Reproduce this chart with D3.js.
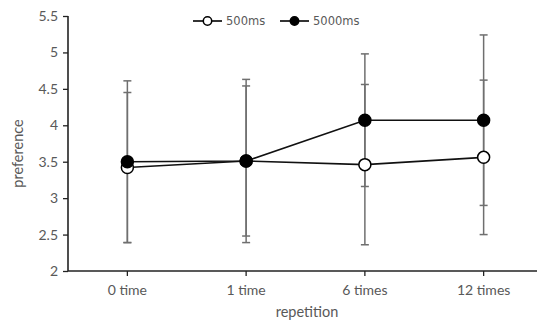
<!DOCTYPE html>
<html><head><meta charset="utf-8">
<script src="https://cdn.jsdelivr.net/npm/d3@7"></script>
<style>body{margin:0;background:#fff}svg{display:block}</style>
</head><body>
<svg id="c" width="537" height="321"></svg>
<script>
const categories = ["0 time", "1 time", "6 times", "12 times"];
const series = ["500ms", "5000ms"];
const mean500 = [3.42, 3.51, 3.46, 3.56];
const sd500 = [1.03, 1.03, 1.10, 1.06];
const mean5000 = [3.50, 3.51, 4.07, 4.07];
const sd5000 = [1.11, 1.12, 0.91, 1.17];
const yTicks = [2, 2.5, 3, 3.5, 4, 4.5, 5, 5.5];

const svg = d3.select("#c");
const L = 68, R = 543, T = 16, B = 271;
const x = d3.scaleBand().domain(categories).range([L, R]);
const y = d3.scaleLinear().domain([2, 5.5]).range([B, T]);
const gray = "#595959";
const font = "Lato, 'Open Sans', sans-serif";

// axes
const ya = svg.append("g").attr("transform", `translate(${L},0)`)
  .call(d3.axisLeft(y).tickValues(yTicks).tickSize(5).tickPadding(5).tickFormat(d3.format("")));
const xa = svg.append("g").attr("transform", `translate(0,${B})`)
  .call(d3.axisBottom(x).tickSize(5).tickPadding(9));
[ya, xa].forEach(g => {
  g.select(".domain").attr("stroke", "#222").attr("stroke-width", 1.6);
  g.selectAll(".tick line").attr("stroke", "#222").attr("stroke-width", 1.3);
  g.selectAll("text").attr("fill", gray).attr("font-size", 14).attr("font-family", font);
});
ya.select(".domain").attr("d", `M0,${T}V${B}`);
xa.select(".domain").attr("d", `M${L},0H${R}`);

const cx = d => x(d) + x.bandwidth() / 2;
const data = [
  {name: series[0], mean: mean500, sd: sd500, fill: "#fff"},
  {name: series[1], mean: mean5000, sd: sd5000, fill: "#000"}
];

// error bars
data.forEach(s => {
  const g = svg.append("g").attr("stroke", "#6f6f6f").attr("stroke-width", 1.5);
  categories.forEach((c, i) => {
    const hi = y(s.mean[i] + s.sd[i]), lo = y(s.mean[i] - s.sd[i]), xc = cx(c);
    g.append("line").attr("x1", xc).attr("x2", xc).attr("y1", hi).attr("y2", lo);
    g.append("line").attr("x1", xc - 4).attr("x2", xc + 4).attr("y1", hi).attr("y2", hi);
    g.append("line").attr("x1", xc - 4).attr("x2", xc + 4).attr("y1", lo).attr("y2", lo);
  });
});

// lines and markers
const line = d3.line().x((d, i) => cx(categories[i])).y(d => y(d));
data.forEach(s => {
  svg.append("path").attr("d", line(s.mean)).attr("fill", "none")
    .attr("stroke", "#111").attr("stroke-width", 1.6);
});
data.forEach(s => {
  svg.append("g").selectAll("circle").data(s.mean).join("circle")
    .attr("cx", (d, i) => cx(categories[i])).attr("cy", d => y(d)).attr("r", 6)
    .attr("fill", s.fill).attr("stroke", "#000").attr("stroke-width", 1.5);
});

// legend
const legX = [193, 280];
data.forEach((s, i) => {
  const g = svg.append("g").attr("transform", `translate(${legX[i]},21)`);
  g.append("line").attr("x1", 0).attr("x2", 29).attr("y1", 0).attr("y2", 0)
    .attr("stroke", "#000").attr("stroke-width", 1.6);
  g.append("circle").attr("cx", 14.5).attr("cy", 0).attr("r", 4.2)
    .attr("fill", s.fill).attr("stroke", "#000").attr("stroke-width", 1.5);
  g.append("text").attr("x", 33).attr("y", 4).text(s.name)
    .attr("fill", gray).attr("font-size", 11.5).attr("font-family", "'DejaVu Sans', sans-serif");
});

// axis titles
svg.append("text").attr("x", 307).attr("y", 317).attr("text-anchor", "middle")
  .text("repetition").attr("fill", gray).attr("font-size", 14.5).attr("font-family", font);
svg.append("text").attr("transform", `translate(23,${(T + B) / 2 + 10}) rotate(-90)`)
  .attr("text-anchor", "middle").text("preference")
  .attr("fill", gray).attr("font-size", 14.5).attr("font-family", font);
</script>
</body></html>
